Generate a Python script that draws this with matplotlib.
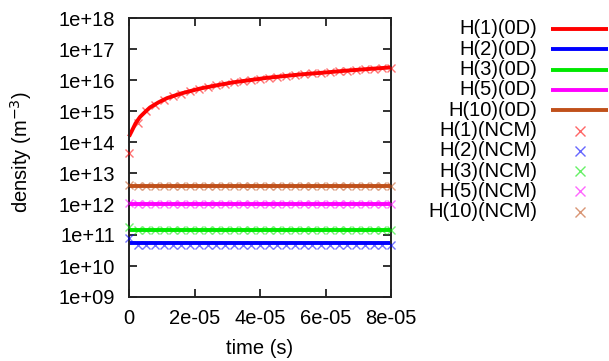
import numpy as np
import matplotlib
matplotlib.use("Agg")
import matplotlib.pyplot as plt
from matplotlib.lines import Line2D
from matplotlib.ticker import FixedLocator, FuncFormatter, NullLocator

plt.rcParams['font.family'] = ['Liberation Sans', 'DejaVu Sans']

# ---------------- data ----------------
# 0D model: H(1) grows with time, others constant
t_0d = [0, 0.8e-6, 2e-6, 3.4e-6, 5e-6, 6.4e-6, 9e-6, 1.16e-5, 1.6e-5, 2.17e-5,
        2.7e-5, 3.18e-5, 4.2e-5, 5.2e-5, 6e-5, 6.75e-5, 7.4e-5, 8e-5]
h1_0d = [1.5e14, 2.2e14, 4.0e14, 6.5e14, 9.5e14, 1.3e15, 1.9e15, 2.6e15, 3.7e15, 5.3e15,
         6.8e15, 8.4e15, 1.17e16, 1.5e16, 1.75e16, 2.05e16, 2.3e16, 2.55e16]
t_0d_flat = [0, 8e-5]
h2_0d = [5.5e10, 5.5e10]
h3_0d = [1.5e11, 1.5e11]
h5_0d = [1.0e12, 1.0e12]
h10_0d = [3.9e12, 3.9e12]

# NCM model samples
t_ncm = np.linspace(0, 8e-5, 31)
h1_ncm = [4.4e13, 4.0e14, 1.0e15, 1.6e15, 2.3e15, 3.0e15, 3.6e15, 4.4e15, 5.2e15, 6.0e15,
          6.7e15, 7.5e15, 8.4e15, 9.2e15, 1.0e16, 1.1e16, 1.2e16, 1.28e16, 1.37e16, 1.46e16,
          1.55e16, 1.63e16, 1.72e16, 1.8e16, 1.9e16, 2.0e16, 2.1e16, 2.2e16, 2.3e16, 2.4e16,
          2.5e16]
h2_ncm = [8.0e10] + [4.6e10] * 30
h3_ncm = [1.8e11] + [1.5e11] * 30
h5_ncm = [1.1e12] + [1.0e12] * 30
h10_ncm = [4.2e12] + [3.9e12] * 30

labels_0d = ["H(1)(0D)", "H(2)(0D)", "H(3)(0D)", "H(5)(0D)", "H(10)(0D)"]
labels_ncm = ["H(1)(NCM)", "H(2)(NCM)", "H(3)(NCM)", "H(5)(NCM)", "H(10)(NCM)"]
colors = ["#ff0000", "#0000ff", "#00e800", "#ff00ff", "#c0501a"]

xticks = [0, 2e-5, 4e-5, 6e-5, 8e-5]
xticklabels = ["0", "2e-05", "4e-05", "6e-05", "8e-05"]
ydecades = list(range(9, 19))

# ---------------- figure ----------------
W, H = 609, 361
fig = plt.figure(figsize=(W / 100, H / 100), dpi=100)
ax = fig.add_axes([129 / W, 1 - 297 / H, (391 - 129) / W, (297 - 18) / H])

series_0d = [(t_0d, h1_0d), (t_0d_flat, h2_0d), (t_0d_flat, h3_0d),
             (t_0d_flat, h5_0d), (t_0d_flat, h10_0d)]
series_ncm = [h1_ncm, h2_ncm, h3_ncm, h5_ncm, h10_ncm]

for (tt, yy), c in zip(series_0d, colors):
    ax.plot(tt, yy, color=c, lw=2.8, solid_capstyle='butt', zorder=2, clip_on=False)
for yy, c in zip(series_ncm, colors):
    ax.plot(t_ncm, yy, ls='none', marker='x', ms=5.5, mew=1.0, color=c, alpha=0.55,
            zorder=3, clip_on=False)

ax.set_yscale('log')
ax.set_xlim(0, 8e-5)
ax.set_ylim(1e9, 1e18)
ax.xaxis.set_major_locator(FixedLocator(xticks))
ax.set_xticklabels(xticklabels)
ax.yaxis.set_major_locator(FixedLocator([10.0 ** d for d in ydecades]))
ax.yaxis.set_minor_locator(NullLocator())
ax.yaxis.set_major_formatter(FuncFormatter(lambda v, p: "1e+%02d" % int(round(np.log10(v)))))

ax.tick_params(axis='both', which='major', direction='in', length=6, width=1.3,
               top=True, right=True, labelsize=14.5, colors='#222222', labelcolor='black')
ax.tick_params(axis='y', pad=10)
ax.tick_params(axis='x', pad=9)
for s in ax.spines.values():
    s.set_linewidth(1.4)
    s.set_color('#222222')

fig.text(260 / W, 1 - 348 / H, "time (s)", ha='center', va='center', fontsize=14.5)
fig.text(21 / W, 1 - 152 / H, "density (m$^{-3}$)", ha='center', va='center',
         rotation=90, fontsize=14.5)

# ---------------- legend (gnuplot style) ----------------
row0, dy = 29, 20.3
all_labels = labels_0d + labels_ncm
for i, lab in enumerate(all_labels):
    y = 1 - (row0 + i * dy) / H
    fig.text(537 / W, y, lab, ha='right', va='center', fontsize=14.5)
    c = colors[i % 5]
    if i < 5:
        fig.add_artist(Line2D([551 / W, 608 / W], [y, y], transform=fig.transFigure,
                              color=c, lw=2.8, solid_capstyle='butt'))
    else:
        fig.add_artist(Line2D([580 / W], [y], transform=fig.transFigure, ls='none',
                              marker='x', ms=6.5, mew=1.0, color=c, alpha=0.6))

fig.savefig("out.png", dpi=100)
